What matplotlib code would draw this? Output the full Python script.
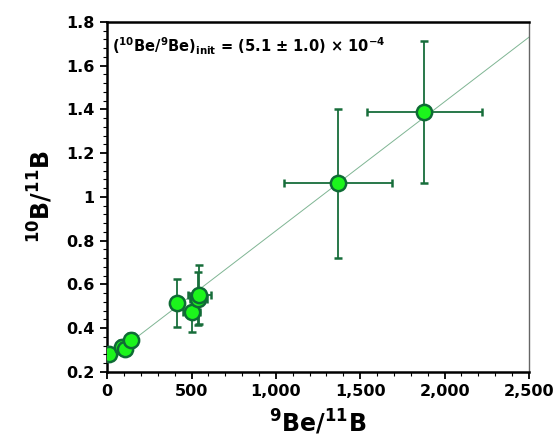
import matplotlib.pyplot as plt
import numpy as np
from matplotlib.ticker import MultipleLocator, FuncFormatter

# isochron data: 9Be/11B vs 10B/11B with 1-sigma errors
be_b = [14, 87, 105, 142, 412, 502, 540, 547, 1366, 1880]
be_b_err = [8, 20, 15, 15, 12, 50, 50, 70, 320, 340]
b_ratio = [0.282, 0.316, 0.305, 0.346, 0.517, 0.473, 0.535, 0.552, 1.063, 1.387]
b_ratio_err = [0.012, 0.03, 0.025, 0.03, 0.11, 0.09, 0.12, 0.135, 0.34, 0.325]

# regression line
fit_slope = 5.9e-4
fit_intercept = 0.255

plt.rcParams['font.family'] = ['DejaVu Sans']

fig = plt.figure(figsize=(5.58, 4.46), dpi=100)
ax = fig.add_axes([0.192, 0.166, 0.756, 0.785])

xs = np.array([0, 2500])
ax.plot(xs, fit_intercept + fit_slope * xs, color='#7fb593', lw=0.7, zorder=1)

ax.errorbar(be_b, b_ratio, xerr=be_b_err, yerr=b_ratio_err, fmt='o',
            color='#0f6b35', ecolor='#176d3a', elinewidth=1.3, capsize=3,
            capthick=1.3, markersize=11, markerfacecolor='#1cf51c',
            markeredgecolor='#0f6b35', markeredgewidth=1.8, zorder=3)

ax.set_xlim(0, 2500)
ax.set_ylim(0.2, 1.8)
ax.xaxis.set_major_locator(MultipleLocator(500))
ax.xaxis.set_minor_locator(MultipleLocator(100))
ax.yaxis.set_major_locator(MultipleLocator(0.2))
ax.yaxis.set_minor_locator(MultipleLocator(0.04))
ax.xaxis.set_major_formatter(FuncFormatter(lambda v, p: f'{v:,.0f}'))
ax.yaxis.set_major_formatter(FuncFormatter(lambda v, p: f'{v:g}'))

ax.tick_params(which='major', direction='out', length=5, width=1.3,
               labelsize=11.5, pad=4)
ax.tick_params(which='minor', direction='out', length=3, width=0.8)
for lab in ax.get_xticklabels() + ax.get_yticklabels():
    lab.set_fontweight('bold')

for side in ['left', 'bottom', 'top']:
    ax.spines[side].set_linewidth(1.8)
    ax.spines[side].set_color('black')
ax.spines['right'].set_linewidth(1.0)
ax.spines['right'].set_color('#666666')

ax.set_xlabel(r'$\mathbf{^{9}}$Be/$\mathbf{^{11}}$B', fontsize=17,
              fontweight='bold', labelpad=6)
ax.set_ylabel(r'$\mathbf{^{10}}$B/$\mathbf{^{11}}$B', fontsize=17,
              fontweight='bold', labelpad=8)

ax.text(0.012, 0.96,
        r'($\mathbf{^{10}}$Be/$\mathbf{^{9}}$Be)$\mathbf{_{init}}$ = (5.1 ± 1.0) × 10$\mathbf{^{-4}}$',
        transform=ax.transAxes, ha='left', va='top', fontsize=10.5,
        fontweight='bold')

fig.savefig('out.png', dpi=100)
